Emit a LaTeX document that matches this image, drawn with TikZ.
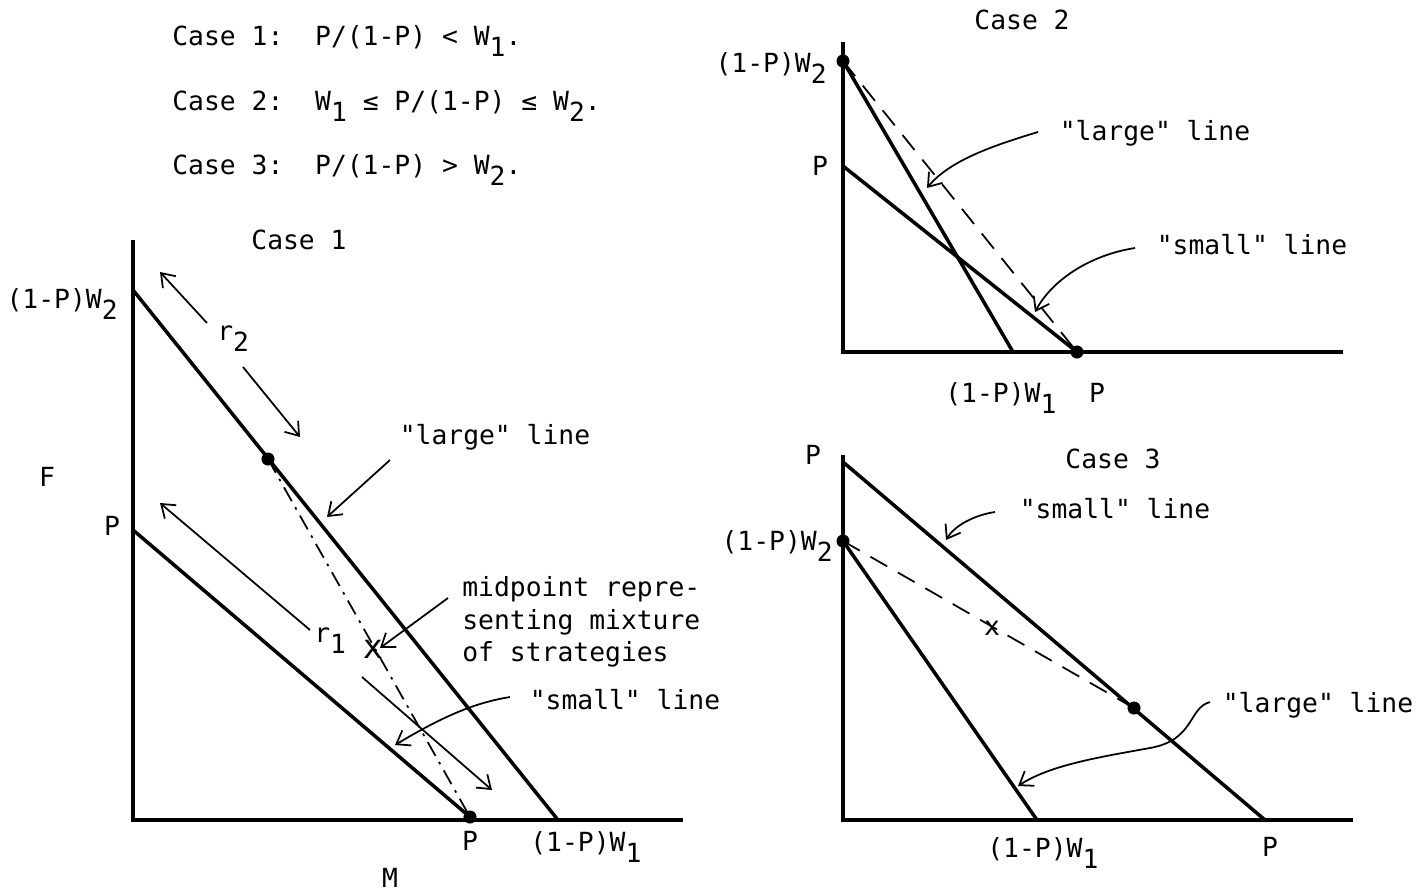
\documentclass[tikz,border=0pt]{standalone}
\usepackage{fontspec}
\setmainfont{DejaVu Sans Mono}[Ligatures=TeXOff]
\usepackage{tikz}
\usetikzlibrary{arrows.meta}
\tikzstyle{vertex}=[circle, draw, fill=black, inner sep=0pt, minimum size=7pt]
\tikzstyle{edge}=[line width=2pt]
\tikzstyle{axis}=[line width=2pt]
\tikzstyle{labelsty}=[font=\fontsize{15}{18.5}\selectfont, inner sep=0pt]
\tikzstyle{pointer}=[line width=1pt,-{Straight Barb[length=7pt,width=10pt]}]
\tikzstyle{mixline}=[line width=1pt, dash pattern=on 11pt off 7pt]
\tikzstyle{mixdot}=[line width=1pt, dash pattern=on 9pt off 4pt on 1.5pt off 4pt]
\newcommand{\lowsub}[1]{\raisebox{-0.45em}{#1}}

\begin{document}
\begin{tikzpicture}[x=0.02cm,y=-0.02cm]
\useasboundingbox (0,0) rectangle (1424,893);

\node[labelsty,anchor=base west] (c1) at (172,45) {Case 1:~~P/(1-P) < W\lowsub{1}.};
\node[labelsty,anchor=base west] (c2) at (172,110) {Case 2:~~W\lowsub{1} ≤ P/(1-P) ≤ W\lowsub{2}.};
\node[labelsty,anchor=base west] (c3) at (172,174) {Case 3:~~P/(1-P) > W\lowsub{2}.};

% Case 1
\coordinate (f1) at (133,240);
\coordinate (o1) at (133,820);
\coordinate (m1) at (683,820);
\coordinate (l1a) at (133,290);
\coordinate (l1b) at (558,820);
\coordinate (s1a) at (133,530);
\node[vertex] (d1) at (268,459) {};
\node[vertex] (e1) at (470,817) {};
\draw[axis] (f1) -- (o1) -- (m1);
\draw[edge] (l1a) -- (l1b);
\draw[edge] (s1a) -- (e1.center);
\draw[mixdot] (d1.center) -- (e1.center);
\node[labelsty,font=\fontsize{19}{20}\selectfont] (x1) at (373,649) {x};

\node[labelsty] (cap1) at (299,240) {Case 1};
\node[labelsty] (F) at (47,477) {F};
\node[labelsty] (M) at (390,878) {M};
\node[labelsty] (p1y) at (112,526) {P};
\node[labelsty,anchor=base east] (w2y) at (118,308) {(1-P)W\lowsub{2}};
\node[labelsty] (p1x) at (470,841) {P};
\node[labelsty,anchor=base west] (w1x) at (530,851) {(1-P)W\lowsub{1}};

\node[labelsty,anchor=base west] (r2) at (217,340) {r\lowsub{2}};
\coordinate (r2a) at (207,323); \coordinate (r2b) at (160,272);
\coordinate (r2c) at (243,367); \coordinate (r2d) at (300,437);
\draw[pointer] (r2a) -- (r2b);
\draw[pointer] (r2c) -- (r2d);

\node[labelsty,anchor=base west] (r1) at (314,642) {r\lowsub{1}};
\coordinate (r1a) at (310,630); \coordinate (r1b) at (160,503);
\coordinate (r1c) at (362,677); \coordinate (r1d) at (492,790);
\draw[pointer] (r1a) -- (r1b);
\draw[pointer] (r1c) -- (r1d);

\node[labelsty] (large1) at (495,437) {"large" line};
\coordinate (large1a) at (390,460); \coordinate (large1b) at (327,517);
\draw[pointer] (large1a) -- (large1b);

\node[labelsty,anchor=west,align=left] (mid) at (462,622) {midpoint repre-\\senting mixture\\of strategies};
\coordinate (mida) at (448,598); \coordinate (midb) at (380,648);
\draw[pointer] (mida) -- (midb);

\node[labelsty] (small1) at (625,700) {"small" line};
\coordinate (small1a) at (510,697); \coordinate (small1b) at (395,745);
\draw[pointer] (small1a) .. controls (480,702) and (450,712) .. (small1b);

% Case 2
\coordinate (f2) at (843,42);
\coordinate (o2) at (843,352);
\coordinate (m2) at (1343,352);
\coordinate (s2a) at (843,166);
\coordinate (l2b) at (1013,352);
\node[vertex] (d2) at (843,61) {};
\node[vertex] (e2) at (1077,352) {};
\draw[axis] (f2) -- (o2) -- (m2);
\draw[edge] (d2.center) -- (l2b);
\draw[edge] (s2a) -- (e2.center);
\draw[mixline] (d2.center) -- (e2.center);

\node[labelsty] (cap2) at (1022,20) {Case 2};
\node[labelsty,anchor=base east] (w2y2) at (827,72) {(1-P)W\lowsub{2}};
\node[labelsty] (p2y) at (820,166) {P};
\node[labelsty,anchor=base west] (w1x2) at (945,402) {(1-P)W\lowsub{1}};
\node[labelsty] (p2x) at (1097,393) {P};

\node[labelsty] (large2) at (1155,133) {"large" line};
\coordinate (large2a) at (1038,132); \coordinate (large2b) at (927,188);
\draw[pointer] (large2a) .. controls (995,145) and (950,160) .. (large2b);

\node[labelsty] (small2) at (1252,245) {"small" line};
\coordinate (small2a) at (1135,248); \coordinate (small2b) at (1035,312);
\draw[pointer] (small2a) .. controls (1090,255) and (1052,280) .. (small2b);

% Case 3
\coordinate (f3) at (843,455);
\coordinate (o3) at (843,820);
\coordinate (m3) at (1353,820);
\coordinate (s3a) at (843,462);
\coordinate (s3b) at (1265,820);
\coordinate (l3b) at (1037,820);
\node[vertex] (d3) at (843,541) {};
\node[vertex] (e3) at (1134,708) {};
\draw[axis] (f3) -- (o3) -- (m3);
\draw[edge] (s3a) -- (s3b);
\draw[edge] (d3.center) -- (l3b);
\draw[mixline] (d3.center) -- (e3.center);
\node[labelsty] (x3) at (992,628) {x};

\node[labelsty] (cap3) at (1113,459) {Case 3};
\node[labelsty] (p3y) at (813,455) {P};
\node[labelsty,anchor=base east] (w2y3) at (833,550) {(1-P)W\lowsub{2}};
\node[labelsty,anchor=base west] (w1x3) at (987,857) {(1-P)W\lowsub{1}};
\node[labelsty] (p3x) at (1270,847) {P};

\node[labelsty] (small3) at (1115,509) {"small" line};
\coordinate (small3a) at (995,512); \coordinate (small3b) at (946,540);
\draw[pointer] (small3a) .. controls (975,515) and (955,525) .. (small3b);

\node[labelsty] (large3) at (1318,705) {"large" line};
\coordinate (large3a) at (1210,702); \coordinate (large3b) at (1018,786);
\draw[pointer] (large3a) .. controls (1188,708) and (1195,740) .. (1150,748)
  .. controls (1100,757) and (1050,765) .. (large3b);
\end{tikzpicture}
\end{document}
